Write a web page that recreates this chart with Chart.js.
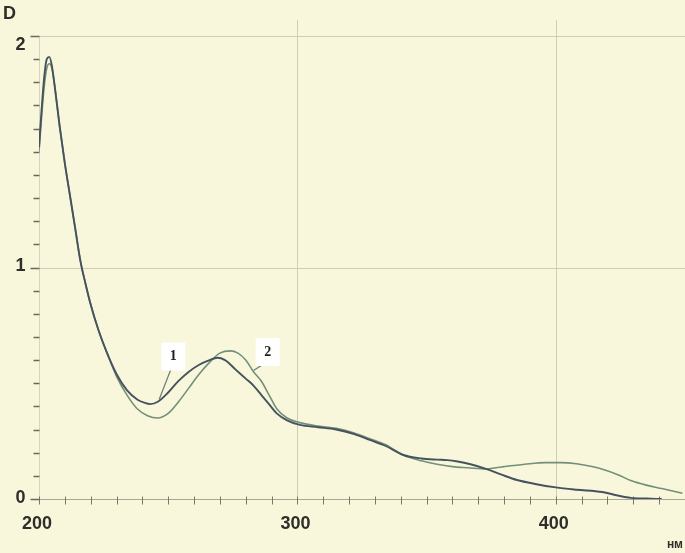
<!DOCTYPE html>
<html>
<head>
<meta charset="utf-8">
<script src="https://cdn.jsdelivr.net/npm/chart.js@4.4.1/dist/chart.umd.min.js"></script>
<style>
  html, body { margin: 0; padding: 0; background: #f8f7dc; }
  #wrap { width: 685px; height: 553px; }
</style>
</head>
<body>
<div id="wrap"><canvas id="spectrum" width="685" height="553"></canvas></div>
<script>
// wavelengths (nm) and optical density for the two spectra
const wave1 = [200, 201, 202, 203, 204, 205, 206, 208, 210, 212, 214, 216, 218, 220, 223, 226, 230, 234, 238, 241, 243, 246, 250, 254, 258, 262, 266, 269, 272, 276, 280, 283, 286, 289, 292, 296, 301, 308, 315, 322, 328, 334, 341, 348, 354, 358, 362, 367, 373, 379, 385, 392, 400, 408, 418, 424, 429, 435, 441];
const dens1 = [1.52, 1.68, 1.82, 1.90, 1.91, 1.87, 1.79, 1.61, 1.45, 1.31, 1.17, 1.03, 0.93, 0.84, 0.73, 0.64, 0.54, 0.47, 0.43, 0.415, 0.41, 0.42, 0.46, 0.51, 0.55, 0.58, 0.60, 0.61, 0.60, 0.56, 0.52, 0.49, 0.45, 0.41, 0.37, 0.34, 0.32, 0.31, 0.30, 0.28, 0.255, 0.23, 0.19, 0.175, 0.17, 0.168, 0.162, 0.15, 0.13, 0.105, 0.082, 0.065, 0.05, 0.04, 0.03, 0.015, 0.005, 0.002, 0.0];

const wave2 = [200, 201, 202, 203, 204, 205, 206, 208, 210, 212, 214, 216, 218, 220, 223, 226, 230, 234, 238, 242, 246, 250, 254, 258, 262, 266, 270, 274, 277, 280, 283, 286, 289, 292, 296, 301, 308, 315, 322, 328, 334, 341, 348, 354, 360, 366, 373, 380, 388, 396, 402, 408, 414, 419, 424, 429, 435, 441, 449];
const dens2 = [1.50, 1.65, 1.78, 1.86, 1.88, 1.86, 1.79, 1.61, 1.45, 1.31, 1.17, 1.03, 0.93, 0.84, 0.73, 0.64, 0.53, 0.45, 0.39, 0.36, 0.35, 0.37, 0.42, 0.48, 0.54, 0.59, 0.63, 0.64, 0.63, 0.60, 0.55, 0.51, 0.45, 0.39, 0.35, 0.33, 0.315, 0.305, 0.285, 0.26, 0.235, 0.19, 0.165, 0.15, 0.14, 0.135, 0.13, 0.14, 0.15, 0.157, 0.157, 0.152, 0.14, 0.125, 0.105, 0.08, 0.06, 0.045, 0.025];

// axes
const xMin = 200, xMax = 450, xStep = 10;
const yMin = 0, yMax = 2, yStep = 0.1;
const xTickLabels = [200, 300, 400];
const yTickLabels = [0, 1, 2];
const xGridLines = [300, 400];
const yGridLines = [1, 2];

// curve labels: number, label position, leader start/end (data units)
const curveTags = [
  { text: '1', at: [252, 0.615], from: [251.2, 0.565], to: [246.5, 0.43] },
  { text: '2', at: [288.5, 0.635], from: [287.3, 0.585], to: [283, 0.555] }
];

const lineColor1 = '#45535e';
const lineColor2 = '#748f78';

function toPoints(xs, ys) {
  return xs.map((x, i) => ({ x: x, y: ys[i] }));
}

const axisPlugin = {
  id: 'axisDecor',
  beforeDraw(chart) {
    const ctx = chart.ctx;
    ctx.save();
    ctx.fillStyle = '#f8f7dc';
    ctx.fillRect(0, 0, chart.width, chart.height);
    ctx.restore();
  },
  beforeDatasetsDraw(chart) {
    const ctx = chart.ctx;
    const xs = chart.scales.x, ys = chart.scales.y;
    const area = chart.chartArea;
    ctx.save();

    // grid
    ctx.strokeStyle = '#cfcdb4';
    ctx.lineWidth = 1;
    xGridLines.forEach(v => {
      const px = Math.round(xs.getPixelForValue(v)) + 0.5;
      ctx.beginPath();
      ctx.moveTo(px, area.top - 16);
      ctx.lineTo(px, area.bottom);
      ctx.stroke();
    });
    yGridLines.forEach(v => {
      const py = Math.round(ys.getPixelForValue(v)) + 0.5;
      ctx.beginPath();
      ctx.moveTo(area.left, py);
      ctx.lineTo(area.right, py);
      ctx.stroke();
    });

    // axis lines
    const x0 = Math.round(xs.getPixelForValue(xMin)) + 0.5;
    const y0 = Math.round(ys.getPixelForValue(yMin)) + 0.5;
    ctx.strokeStyle = '#d6d4bc';
    ctx.beginPath();
    ctx.moveTo(x0, area.top);
    ctx.lineTo(x0, y0);
    ctx.stroke();
    ctx.strokeStyle = '#a8a894';
    ctx.beginPath();
    ctx.moveTo(x0, y0);
    ctx.lineTo(area.right, y0);
    ctx.stroke();

    // x ticks
    ctx.strokeStyle = '#77776a';
    for (let v = xMin; v <= xMax; v += xStep) {
      const px = Math.round(xs.getPixelForValue(v)) + 0.5;
      ctx.beginPath();
      ctx.moveTo(px, y0 - 3);
      ctx.lineTo(px, y0 + 5);
      ctx.stroke();
    }
    // y ticks
    ctx.strokeStyle = '#6a6a60';
    ctx.lineWidth = 1.5;
    for (let i = 0; i <= Math.round((yMax - yMin) / yStep); i++) {
      const v = yMin + i * yStep;
      const py = Math.round(ys.getPixelForValue(v)) + 0.5;
      const major = i % 10 === 0;
      ctx.beginPath();
      ctx.moveTo(x0 - (major ? 9 : 6), py);
      ctx.lineTo(x0, py);
      ctx.stroke();
    }

    // tick labels
    ctx.fillStyle = '#2e2e2a';
    ctx.font = 'bold 18px "Liberation Sans", Arial, sans-serif';
    ctx.textAlign = 'center';
    ctx.textBaseline = 'middle';
    xTickLabels.forEach(v => {
      ctx.fillText(String(v), xs.getPixelForValue(v) - 2, y0 + 25);
    });
    ctx.textAlign = 'right';
    yTickLabels.forEach(v => {
      let py = ys.getPixelForValue(v);
      if (v === yMax) py += 10;
      ctx.fillText(String(v), x0 - 14, py - 1);
    });
    ctx.textAlign = 'left';
    ctx.fillText('D', 3, 14);
    ctx.font = 'bold 12px "Liberation Sans", Arial, sans-serif';
    ctx.textAlign = 'right';
    ctx.fillText('нм', chart.width - 2, chart.height - 8);
    ctx.restore();
  },
  afterDatasetsDraw(chart) {
    const ctx = chart.ctx;
    const xs = chart.scales.x, ys = chart.scales.y;
    ctx.save();
    curveTags.forEach(t => {
      const px = xs.getPixelForValue(t.at[0]);
      const py = ys.getPixelForValue(t.at[1]);
      ctx.strokeStyle = '#6c7c70';
      ctx.lineWidth = 1.2;
      ctx.beginPath();
      ctx.moveTo(xs.getPixelForValue(t.from[0]), ys.getPixelForValue(t.from[1]));
      ctx.lineTo(xs.getPixelForValue(t.to[0]), ys.getPixelForValue(t.to[1]));
      ctx.stroke();
      ctx.fillStyle = '#ffffff';
      ctx.fillRect(px - 12, py - 14, 24, 28);
      ctx.fillStyle = '#1e1e1e';
      ctx.font = 'bold 14px "Liberation Serif", "Times New Roman", serif';
      ctx.textAlign = 'center';
      ctx.textBaseline = 'middle';
      ctx.fillText(t.text, px, py);
    });
    ctx.restore();
  }
};

new Chart(document.getElementById('spectrum'), {
  type: 'line',
  data: {
    datasets: [
      {
        label: '1',
        data: toPoints(wave1, dens1),
        borderColor: lineColor1,
        borderWidth: 1.9,
        pointRadius: 0,
        cubicInterpolationMode: 'monotone',
        fill: false
      },
      {
        label: '2',
        data: toPoints(wave2, dens2),
        borderColor: lineColor2,
        borderWidth: 1.6,
        pointRadius: 0,
        cubicInterpolationMode: 'monotone',
        fill: false
      }
    ]
  },
  options: {
    responsive: false,
    animation: false,
    layout: { padding: { left: 39, right: 0, top: 36, bottom: 54 } },
    plugins: {
      legend: { display: false },
      tooltip: { enabled: false }
    },
    scales: {
      x: { type: 'linear', min: xMin, max: xMax, display: false },
      y: { type: 'linear', min: yMin, max: yMax, display: false }
    }
  },
  plugins: [axisPlugin]
});
</script>
</body>
</html>
